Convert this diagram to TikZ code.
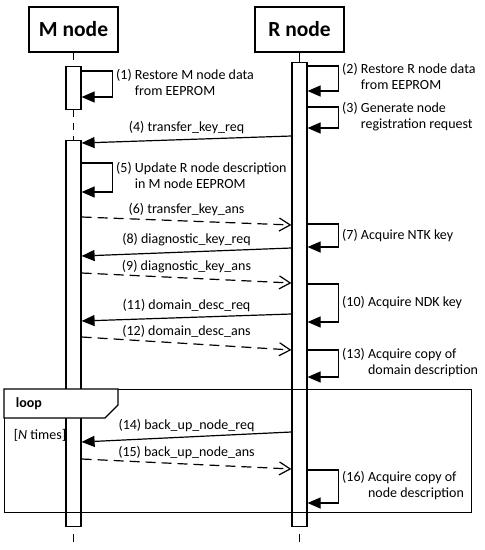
\documentclass[tikz,border=0pt]{standalone}
\usepackage{fontspec}
\setmainfont{Carlito}
\usetikzlibrary{arrows.meta, positioning}

\newcommand{\steptext}[3]{\begin{tabular}{@{}l@{\ }l@{}}#1 & #2\\ & #3\end{tabular}}

\begin{document}
\begin{tikzpicture}[x=1pt, y=-1pt, line width=1.2pt,
    font=\fontsize{14}{16}\selectfont,
    head/.style={rectangle, draw, minimum width=89pt, minimum height=45pt, font=\fontsize{21.5}{24}\selectfont\bfseries},
    act/.style={rectangle, draw, fill=white, minimum width=15pt, inner sep=0pt},
    life/.style={dash pattern=on 7pt off 6pt},
    call/.style={-{Triangle[length=13pt, width=11pt]}},
    reply/.style={-{Straight Barb[length=11pt, width=13pt]}, dash pattern=on 10pt off 6pt},
    lbl/.style={above, inner sep=5pt},
    note/.style={right, inner sep=3pt},
]
\useasboundingbox (0,0) rectangle (485,550);

% Lifeline heads
\node[head] (mhead) at (73.5,29.5) {M node};
\node[head] (rhead) at (299.5,29.5) {R node};

% Activations
\node[act, minimum height=43pt,  anchor=north] (mact1) at (73.5,66)  {};
\node[act, minimum height=386pt, anchor=north] (mact2) at (73.5,140) {};
\node[act, minimum height=464pt, anchor=north] (ract)  at (299.5,62) {};

% Lifelines
\draw[life] (mhead.south) -- (mact1.north);
\draw[life] (mact1.south) -- (mact2.north);
\draw       (rhead.south) -- (ract.north);
\draw ([yshift=-7pt]mact2.south) -- ([yshift=-15pt]mact2.south);
\draw ([yshift=-7pt]ract.south)  -- ([yshift=-15pt]ract.south);

% Self messages
\draw[call] (mact1.east |- 0,71) -- ++(31,0)
    |- node[note, pos=0.25] {\steptext{(1)}{Restore M node data}{from EEPROM}} (mact1.east |- 0,97);
\draw[call] (ract.east |- 0,66) -- ++(31,0)
    |- node[note, pos=0.25] {\steptext{(2)}{Restore R node data}{from EEPROM}} (ract.east |- 0,91);
\draw[call] (ract.east |- 0,107) -- ++(31,0)
    |- node[note, pos=0.25] {\steptext{(3)}{Generate node}{registration request}} (ract.east |- 0,128);
\draw[call] (mact2.east |- 0,163) -- ++(31,0)
    |- node[note, pos=0.25] {\steptext{(5)}{Update R node description}{in M node EEPROM}} (mact2.east |- 0,192);
\draw[call] (ract.east |- 0,224) -- ++(31,0)
    |- node[note, pos=0.25] {(7) Acquire NTK key} (ract.east |- 0,247);
\draw[call] (ract.east |- 0,284) -- ++(31,0)
    |- node[note, pos=0.25] {(10) Acquire NDK key} (ract.east |- 0,322);
\draw[call] (ract.east |- 0,350) -- ++(31,0)
    |- node[note, pos=0.25] {\steptext{(13)}{Acquire copy of}{domain description}} (ract.east |- 0,377);
\draw[call] (ract.east |- 0,470) -- ++(31,0)
    |- node[note, pos=0.25] {\steptext{(16)}{Acquire copy of}{node description}} (ract.east |- 0,503);

% Requests R -> M
\draw[call] (ract.west |- 0,136) -- node[lbl] {(4) transfer\_key\_req} (mact2.east |- 0,143);
\draw[call] (ract.west |- 0,248) -- node[lbl] {(8) diagnostic\_key\_req} (mact2.east |- 0,256);
\draw[call] (ract.west |- 0,314) -- node[lbl] {(11) domain\_desc\_req} (mact2.east |- 0,321);
\draw[call] (ract.west |- 0,432) -- node[lbl] {(14) back\_up\_node\_req} (mact2.east |- 0,442);

% Answers M -> R
\draw[reply] (mact2.east |- 0,217) -- node[lbl] {(6) transfer\_key\_ans} (ract.west |- 0,225);
\draw[reply] (mact2.east |- 0,273) -- node[lbl] {(9) diagnostic\_key\_ans} (ract.west |- 0,283);
\draw[reply] (mact2.east |- 0,337) -- node[lbl] {(12) domain\_desc\_ans} (ract.west |- 0,350);
\draw[reply] (mact2.east |- 0,459) -- node[lbl] {(15) back\_up\_node\_ans} (ract.west |- 0,469);

% Loop fragment
\node[draw, minimum width=467pt, minimum height=123pt, inner sep=0pt, anchor=north west] (loopframe) at (4,389) {};
\draw[fill=white] (loopframe.north west) -- ++(114,0) -- ++(0,16) -- ++(-13,13) -- ++(-101,0) -- cycle;
\node[anchor=west, font=\fontsize{14}{16}\selectfont\bfseries] (looplbl) at (12,404) {loop};
\node[anchor=west] (guard) at (10,435) {[\textit{N} times]};

\end{tikzpicture}
\end{document}
